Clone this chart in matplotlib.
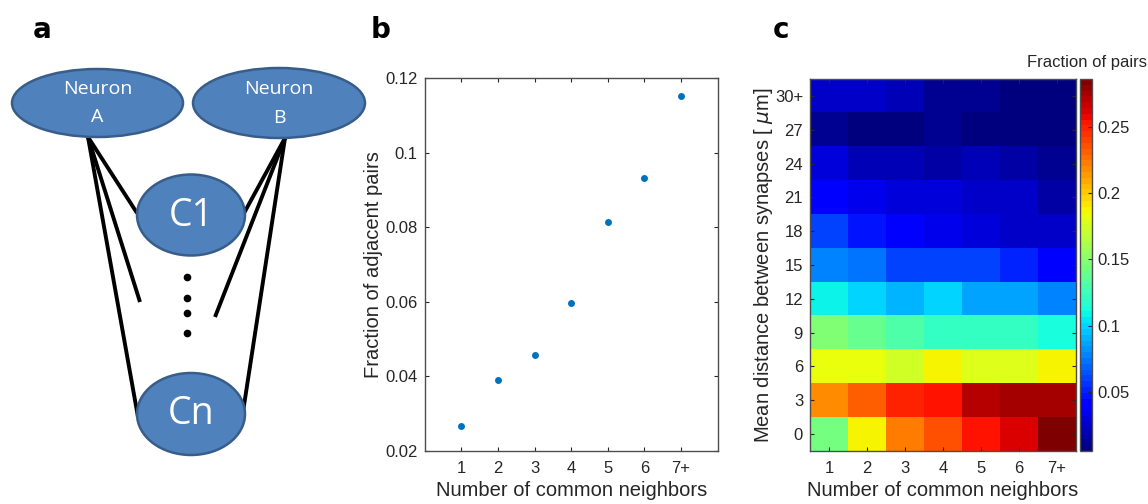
import matplotlib
matplotlib.use('Agg')
import matplotlib.pyplot as plt
import numpy as np
from matplotlib.patches import Ellipse

plt.rcParams['font.family'] = ['Liberation Sans', 'DejaVu Sans']

# panel b: fraction of adjacent pairs vs number of common neighbors
neighbor_labels = ['1', '2', '3', '4', '5', '6', '7+']
adjacent_fraction = [0.0267, 0.0390, 0.0457, 0.0597, 0.0815, 0.0932, 0.1153]

# panel c: fraction of pairs, rows = distance bins (bottom to top), cols = neighbors
distance_labels = ['0', '3', '6', '9', '12', '15', '18', '21', '24', '27', '30+']
pair_fraction = np.array([
    [0.143, 0.188, 0.223, 0.236, 0.255, 0.264, 0.283],   # 0
    [0.219, 0.233, 0.250, 0.252, 0.269, 0.277, 0.273],   # 3
    [0.182, 0.182, 0.174, 0.188, 0.179, 0.179, 0.188],   # 6
    [0.146, 0.138, 0.132, 0.121, 0.121, 0.121, 0.115],   # 9
    [0.109, 0.101, 0.093, 0.098, 0.086, 0.086, 0.076],   # 12
    [0.076, 0.073, 0.062, 0.062, 0.059, 0.050, 0.039],   # 15
    [0.062, 0.048, 0.039, 0.035, 0.031, 0.025, 0.024],   # 18
    [0.038, 0.034, 0.028, 0.028, 0.026, 0.025, 0.018],   # 21
    [0.028, 0.021, 0.021, 0.018, 0.020, 0.018, 0.0125],  # 24
    [0.0125, 0.009, 0.009, 0.011, 0.006, 0.006, 0.007],  # 27
    [0.025, 0.025, 0.021, 0.012, 0.012, 0.009, 0.009],   # 30+
])
cbar_ticks = [0.05, 0.1, 0.15, 0.2, 0.25]

TXT = '#262626'
EDGE = '#4d4d4d'
DOT = '#0072BD'
NODE = '#4F81BD'
NODE_EDGE = '#385D8A'

fig = plt.figure(figsize=(11.48, 5.04), dpi=100)

# panel a: schematic drawn in pixel coordinates
ax_a = fig.add_axes([0, 0, 1, 1], zorder=0)
ax_a.set_xlim(0, 1148)
ax_a.set_ylim(504, 0)
ax_a.axis('off')

edges = [
    ((88, 137), (137, 213)), ((88, 137), (140, 302)), ((88, 137), (138, 417)),
    ((285, 138), (243, 215)), ((285, 138), (215, 317)), ((285, 138), (243, 412)),
]
for (x0, y0), (x1, y1) in edges:
    ax_a.plot([x0, x1], [y0, y1], color='black', lw=2.8, solid_capstyle='butt', zorder=1)

nodes = [((97.5, 103), 171, 68), ((279, 103), 172, 70),
         ((191, 215), 108, 81), ((191, 414), 108, 82)]
for (cx, cy), w, h in nodes:
    ax_a.add_patch(Ellipse((cx, cy), w, h, facecolor=NODE, edgecolor=NODE_EDGE, lw=1.8, zorder=2))

node_font = dict(color='white', ha='center', va='center', family='Open Sans', zorder=3)
ax_a.text(97.5, 89, 'Neuron', fontsize=14, **node_font)
ax_a.text(97.5, 117, 'A', fontsize=14, **node_font)
ax_a.text(279, 89, 'Neuron', fontsize=14, **node_font)
ax_a.text(279, 118, 'B', fontsize=14, **node_font)
ax_a.text(191, 216, 'C1', fontsize=27, **node_font)
ax_a.text(191, 414, 'Cn', fontsize=27, **node_font)
for dy in [277, 298, 313, 333]:
    ax_a.plot(187, dy, 'o', color='black', ms=4.5, zorder=3)

for lab, lx in [('a', 42), ('b', 381), ('c', 781)]:
    ax_a.text(lx, 30, lab, fontsize=20, fontweight='bold', ha='center', va='center', family='DejaVu Sans')


def matlab_style(ax):
    ax.tick_params(direction='in', top=True, right=True, colors=TXT, labelsize=12,
                   length=3, width=0.8)
    ax.tick_params(axis='x', pad=7)
    ax.tick_params(axis='y', pad=5)
    for s in ax.spines.values():
        s.set_color(EDGE)
        s.set_linewidth(1.0)


# panel b
ax_b = fig.add_axes([0.370, 0.1052, 0.2552, 0.7401], zorder=2)
x = np.arange(1, len(neighbor_labels) + 1)
ax_b.plot(x, adjacent_fraction, 'o', color=DOT, ms=5, mec='none')
ax_b.set_xlim(0, 8)
ax_b.set_ylim(0.02, 0.12)
ax_b.set_xticks(x)
ax_b.set_xticklabels(neighbor_labels)
ax_b.set_yticks([0.02, 0.04, 0.06, 0.08, 0.1, 0.12])
ax_b.set_yticklabels(['0.02', '0.04', '0.06', '0.08', '0.1', '0.12'])
ax_b.set_xlabel('Number of common neighbors', fontsize=14.5, color=TXT, labelpad=4)
ax_b.set_ylabel('Fraction of adjacent pairs', fontsize=14.5, color=TXT, labelpad=2)
matlab_style(ax_b)

# panel c
ax_c = fig.add_axes([0.7056, 0.1052, 0.2317, 0.7381], zorder=2)
im = ax_c.imshow(pair_fraction, origin='lower', aspect='auto', cmap=plt.get_cmap('jet', 64),
                 vmin=0.0055, vmax=0.2860, interpolation='nearest',
                 extent=(0.5, len(neighbor_labels) + 0.5, -0.5, len(distance_labels) - 0.5))
ax_c.set_xticks(np.arange(1, len(neighbor_labels) + 1))
ax_c.set_xticklabels(neighbor_labels)
ax_c.set_yticks(np.arange(len(distance_labels)))
ax_c.set_yticklabels(distance_labels)
ax_c.set_xlabel('Number of common neighbors', fontsize=14.5, color=TXT, labelpad=4)
ax_c.set_ylabel(r'Mean distance between synapses [ $\mu$m]', fontsize=14.5, color=TXT, labelpad=0)
matlab_style(ax_c)

cax = fig.add_axes([0.9408, 0.1052, 0.0105, 0.7381], zorder=2)
cb = fig.colorbar(im, cax=cax, ticks=cbar_ticks)
cb.ax.set_yticklabels(['0.05', '0.1', '0.15', '0.2', '0.25'])
cb.ax.tick_params(direction='in', colors=TXT, labelsize=12, length=3, width=0.8, pad=4)
cb.outline.set_edgecolor(EDGE)
cb.outline.set_linewidth(1.0)
fig.text(1147 / 1148, 1 - 63 / 504, 'Fraction of pairs', ha='right', va='center', fontsize=12, color=TXT)

fig.savefig('out.png', dpi=100)
